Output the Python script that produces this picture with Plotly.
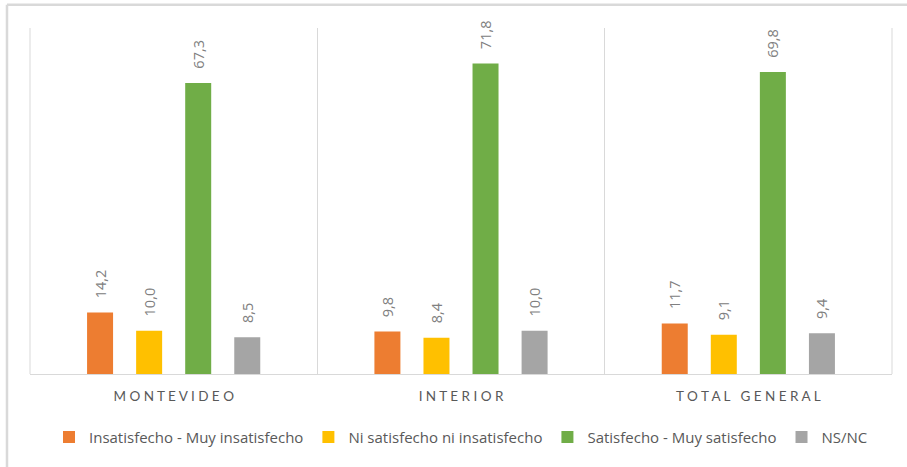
import plotly.graph_objects as go

# Survey results by region (percentages)
regions = ["Montevideo", "Interior", "Total general"]
region_labels = ["M O N T E V I D E O", "I N T E R I O R", "T O T A L\u00a0\u00a0 G E N E R A L"]

series_names = [
    "Insatisfecho - Muy insatisfecho",
    "Ni satisfecho ni insatisfecho",
    "Satisfecho - Muy satisfecho",
    "NS/NC",
]
insatisfecho = [14.2, 9.8, 11.7]
ni_ni = [10.0, 8.4, 9.1]
satisfecho = [67.3, 71.8, 69.8]
ns_nc = [8.5, 10.0, 9.4]

series_values = [insatisfecho, ni_ni, satisfecho, ns_nc]
colors = ["#ED7D31", "#FFC000", "#70AD47", "#A5A5A5"]

FONT = "Lato, Open Sans, sans-serif"
LEGEND_FONT = "Open Sans, Lato, sans-serif"
PAD = "\u00a0\u00a0\u00a0"

fig = go.Figure()
for name, vals, col in zip(series_names, series_values, colors):
    fig.add_trace(go.Bar(
        x=regions,
        y=vals,
        name=name,
        marker=dict(color=col, line=dict(width=0)),
        text=[PAD + f"{v:.1f}".replace(".", ",") for v in vals],
        textposition="outside",
        textangle=-90,
        constraintext="none",
        cliponaxis=False,
        textfont=dict(family=LEGEND_FONT, size=14.5, color="#808080"),
        hoverinfo="skip",
    ))

fig.update_layout(
    width=907,
    height=467,
    margin=dict(l=30, r=15, t=28, b=93),
    paper_bgcolor="white",
    plot_bgcolor="white",
    barmode="group",
    bargap=0.317,
    bargroupgap=0.47,
    font=dict(family=FONT, color="#595959"),
    showlegend=True,
    legend=dict(
        orientation="h",
        x=0.5,
        xanchor="center",
        y=-0.135,
        yanchor="top",
        font=dict(family=LEGEND_FONT, size=15, color="#595959"),
        traceorder="normal",
        itemwidth=30,
    ),
    xaxis=dict(
        type="category",
        tickmode="array",
        tickvals=regions,
        ticktext=region_labels,
        tickson="boundaries",
        ticks="",
        showgrid=True,
        gridcolor="#D9D9D9",
        gridwidth=1,
        showline=True,
        linecolor="#D9D9D9",
        linewidth=1,
        mirror=False,
        tickfont=dict(family=FONT, size=13.5, color="#595959"),
        ticklabelstandoff=10,
    ),
    yaxis=dict(
        range=[0, 80],
        visible=False,
        showgrid=False,
        zeroline=False,
    ),
    shapes=[
        # outer chart frame (left and top edges)
        dict(type="line", xref="paper", yref="paper",
             x0=-0.0267, x1=-0.0267, y0=1.067, y1=-0.3,
             line=dict(color="#D9D9D9", width=2.5)),
        dict(type="line", xref="paper", yref="paper",
             x0=-0.0267, x1=1.02, y0=1.067, y1=1.067,
             line=dict(color="#D9D9D9", width=2.5)),
        # left and right edges of the plot area
        dict(type="line", xref="paper", yref="paper",
             x0=1, x1=1, y0=0, y1=1,
             line=dict(color="#D9D9D9", width=1)),
        dict(type="line", xref="paper", yref="paper",
             x0=0, x1=0, y0=0, y1=1,
             line=dict(color="#D9D9D9", width=1)),
    ],
)

fig.write_html("out.html")
